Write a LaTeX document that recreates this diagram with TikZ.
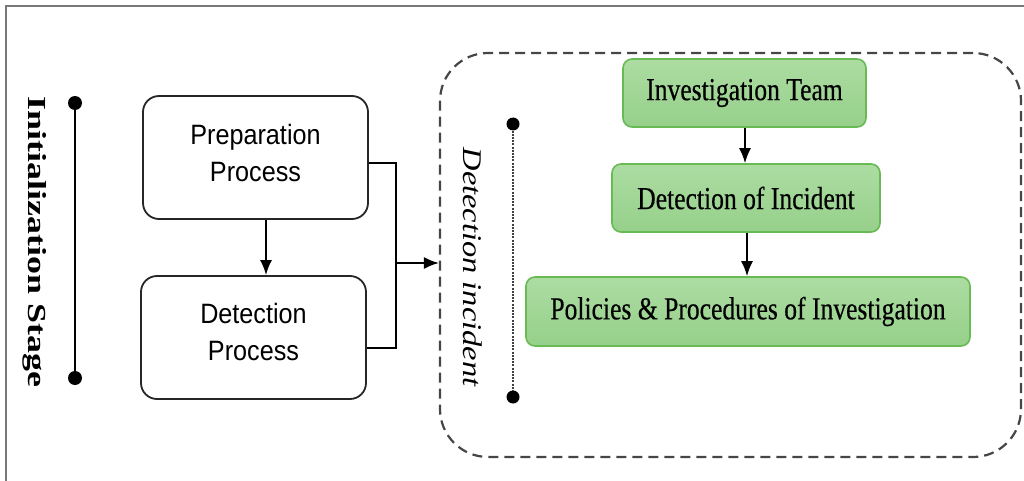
\documentclass[tikz,border=0pt]{standalone}
\usepackage{fontspec}
\setmainfont{Liberation Serif}
\newfontfamily\procfont[FakeStretch=0.9]{Liberation Sans}
\newfontfamily\stepfont[FakeStretch=0.8,FakeBold=0.4]{Liberation Serif}
\newfontfamily\stagefont[FakeStretch=1.38]{Liberation Serif}
\newfontfamily\groupfont[FakeStretch=1.2]{Liberation Serif}
\usetikzlibrary{arrows.meta,calc}
\definecolor{greenfill}{RGB}{150,208,138}
\definecolor{greenfilltop}{RGB}{172,220,162}
\definecolor{greenedge}{RGB}{104,186,84}
\definecolor{framegray}{RGB}{120,120,120}
\definecolor{dashgray}{RGB}{70,70,70}
\begin{document}
\begin{tikzpicture}[x=1pt,y=-1pt,
  procbox/.style={draw=black!85,line width=1.8pt,rounded corners=16pt,fill=white,
    minimum width=225pt,minimum height=123pt},
  proctext/.style={align=center,font=\procfont\fontsize{28}{37}\selectfont},
  greenbox/.style={draw=greenedge,line width=1.6pt,rounded corners=9pt,
    top color=greenfilltop,bottom color=greenfill,minimum height=68pt,
    font=\stepfont\fontsize{32}{36}\selectfont},
  flow/.style={line width=1.8pt,-{Latex[length=15pt,width=12pt]}},
  link/.style={line width=1.8pt},
  enddot/.style={ellipse,fill=black,inner sep=0pt,minimum width=13pt,minimum height=15pt},
]
\useasboundingbox (0,0) rectangle (1024,481);

% partial outer frame
\draw[framegray,line width=1.5pt] (6,481) -- (6,6) -- (1024,6);

% initialization stage marker
\node[circle,fill=black,inner sep=0pt,minimum size=14pt] (ia) at (75,103) {};
\node[circle,fill=black,inner sep=0pt,minimum size=14pt] (ib) at (75,378) {};
\draw[line width=1.8pt] (ia) -- (ib);
\node[rotate=-90,font=\stagefont\bfseries\fontsize{26}{30}\selectfont] (istage) at (35,242) {Initialization Stage};

% process boxes
\node[procbox] (prep) at (255.5,157.5) {};
\node[proctext] (prepT) at ([yshift=5pt]prep.center) {Preparation\\Process};
\node[procbox] (detp) at (253.5,337.5) {};
\node[proctext] (detpT) at ([yshift=6pt]detp.center) {Detection\\Process};
\draw[flow] (prep.south -| 266,0) -- (detp.north -| 266,0);

% detection incident group
\node[draw=dashgray,dash pattern=on 10pt off 6pt,line width=2.2pt,
  rounded corners=48pt,minimum width=581pt,minimum height=404pt] (dbox) at (730.5,255) {};

\coordinate (jn) at (396,263);
\draw[link] ([yshift=-5.5pt]prep.east) -| (jn);
\draw[link] ([yshift=-10.5pt]detp.east) -| (jn);
\draw[flow] (jn) -- (jn -| dbox.west);

\node[circle,fill=black,inner sep=0pt,minimum size=13pt] (da) at (513,124) {};
\node[circle,fill=black,inner sep=0pt,minimum size=13pt] (db) at (513,397) {};
\draw[line width=1.6pt,dash pattern=on 2pt off 1.2pt,black!75] (da) -- (db);
\node[rotate=-90,font=\groupfont\itshape\fontsize{27}{32}\selectfont] (dlabel) at (473,267) {Detection incident};

% investigation steps
\node[greenbox,minimum width=243pt] (team) at (744.5,93) {Investigation Team};
\node[greenbox,minimum width=268pt] (inc) at (746,198) {Detection of Incident};
\node[greenbox,minimum width=444pt,minimum height=69pt] (pol) at (748,311.5) {Policies \& Procedures of Investigation};
\draw[flow] (team.south -| 745,0) -- (inc.north -| 745,0);
\draw[flow] (inc.south -| 747,0) -- (pol.north -| 747,0);
\end{tikzpicture}
\end{document}
